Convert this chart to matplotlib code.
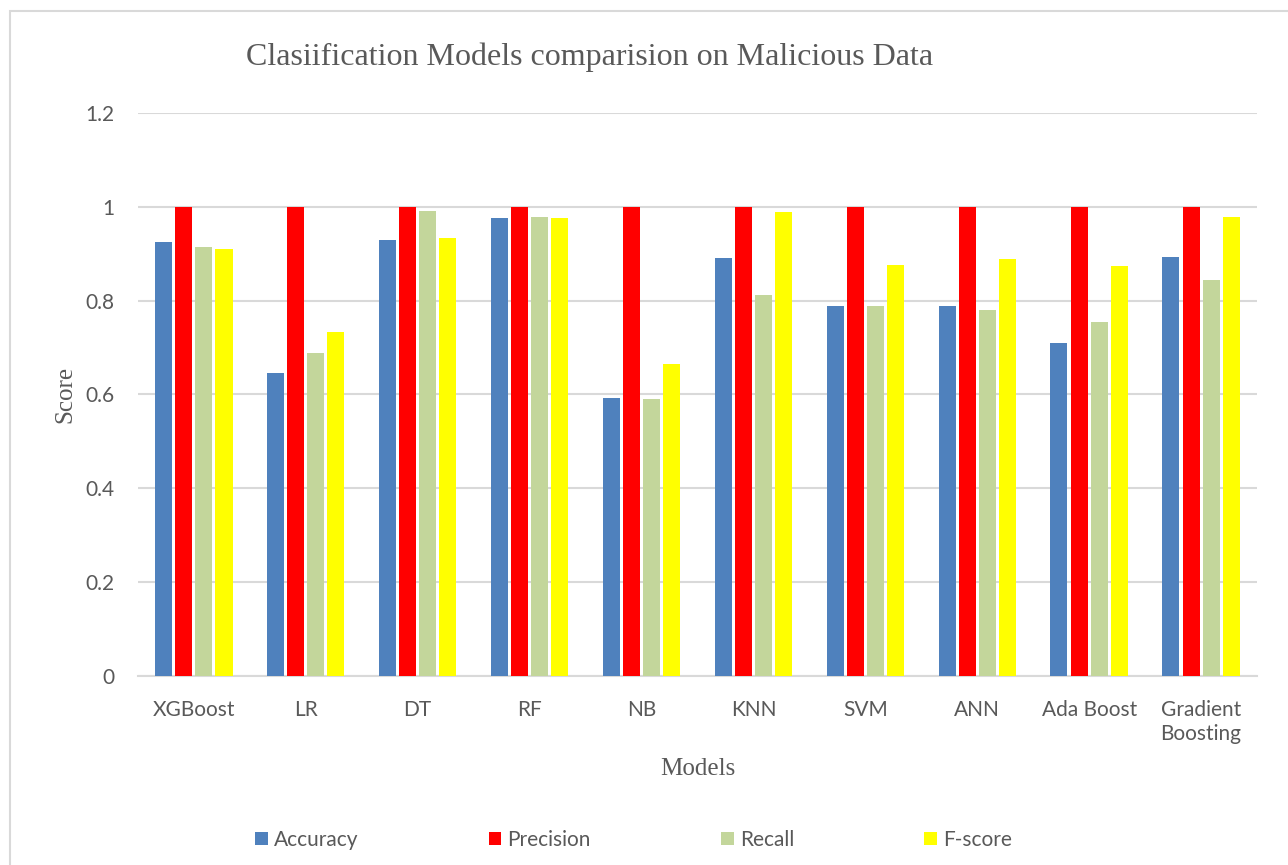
import numpy as np
import matplotlib.pyplot as plt
from matplotlib.patches import Rectangle

# data
models = ["XGBoost", "LR", "DT", "RF", "NB", "KNN", "SVM", "ANN", "Ada Boost", "Gradient\nBoosting"]
accuracy = [0.924, 0.646, 0.929, 0.976, 0.592, 0.890, 0.789, 0.789, 0.710, 0.894]
precision = [1.0, 1.0, 1.0, 1.0, 1.0, 1.0, 1.0, 1.0, 1.0, 1.0]
recall = [0.914, 0.689, 0.991, 0.978, 0.590, 0.813, 0.789, 0.779, 0.755, 0.845]
fscore = [0.911, 0.733, 0.934, 0.977, 0.665, 0.989, 0.877, 0.889, 0.873, 0.978]
y_ticks = [0, 0.2, 0.4, 0.6, 0.8, 1.0, 1.2]
y_tick_labels = ["0", "0.2", "0.4", "0.6", "0.8", "1", "1.2"]

series = [
    ("Accuracy", accuracy, "#4F81BD"),
    ("Precision", precision, "#FF0000"),
    ("Recall", recall, "#C3D69B"),
    ("F-score", fscore, "#FFFF00"),
]

SANS = ["Lato", "DejaVu Sans"]
SERIF = ["Liberation Serif", "DejaVu Serif"]
TEXT_COLOR = "#595959"
GRID_COLOR = "#D9D9D9"

fig = plt.figure(figsize=(12.88, 8.65), dpi=100)
ax = fig.add_axes([0.107, 0.2185, 0.869, 0.6509])

# outer chart frame (only top/left edges fall inside the image)
fig.patches.append(Rectangle((10 / 1288, -0.2), 1.2, 1.2 - 11 / 865,
                             transform=fig.transFigure, fill=False,
                             edgecolor=GRID_COLOR, linewidth=1.5))

x = np.arange(len(models))
width = 0.152
pitch = 0.18
for i, (name, vals, color) in enumerate(series):
    offset = (i - 1.5) * pitch
    ax.bar(x + offset, vals, width, color=color, label=name, zorder=3)

ax.set_ylim(0, 1.2)
ax.set_xlim(-0.5, len(models) - 0.5)
ax.set_yticks(y_ticks)
ax.set_yticklabels(y_tick_labels, family=SANS, fontsize=15, color=TEXT_COLOR)
ax.set_xticks(x)
ax.set_xticklabels(models, family=SANS, fontsize=15, color=TEXT_COLOR, linespacing=1.3)
ax.tick_params(axis="both", length=0)
ax.tick_params(axis="y", pad=17)
ax.tick_params(axis="x", pad=17)
ax.grid(axis="y", color=GRID_COLOR, linewidth=1.5, zorder=0)
for side in ["top", "right", "left"]:
    ax.spines[side].set_visible(False)
ax.spines["bottom"].set_color(GRID_COLOR)
ax.spines["bottom"].set_linewidth(1.5)

ax.set_ylabel("Score", family=SERIF, fontsize=18, color=TEXT_COLOR, labelpad=6)
ax.set_xlabel("Models", family=SERIF, fontsize=18, color=TEXT_COLOR, labelpad=10)
fig.text(0.458, 0.934, "Clasiification Models comparision on Malicious Data",
         family=SERIF, fontsize=23, color=TEXT_COLOR, ha="center", va="center")

leg = fig.legend(loc="center", bbox_to_anchor=(0.492, 0.029), ncol=4, frameon=False,
                 prop={"family": SANS, "size": 15}, handlelength=0.6, handleheight=0.6,
                 handletextpad=0.3, columnspacing=6.25)
for t in leg.get_texts():
    t.set_color(TEXT_COLOR)

fig.savefig("out.png", dpi=100)
